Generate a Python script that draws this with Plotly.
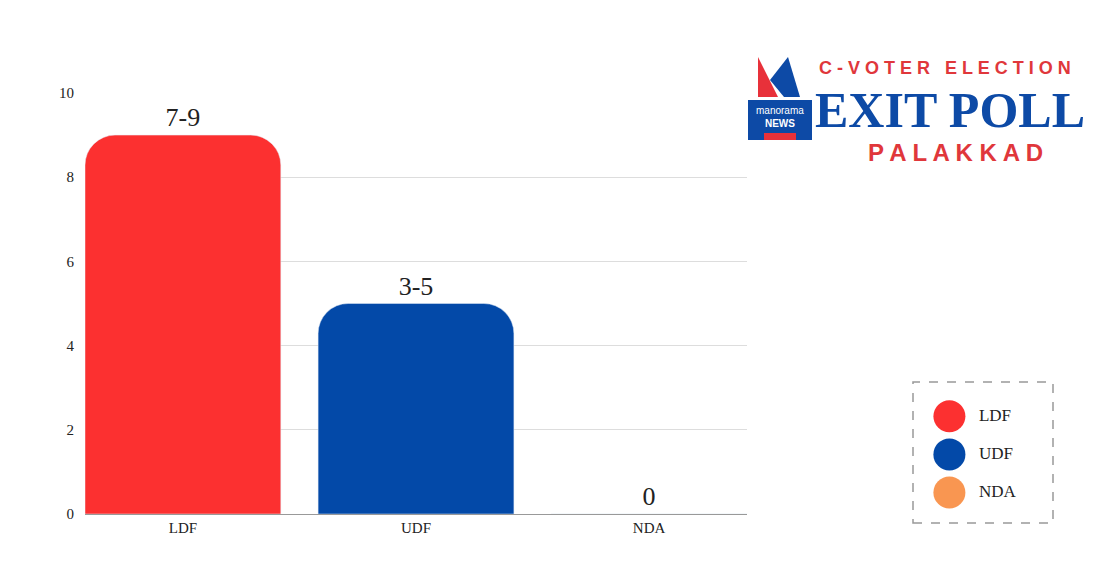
import plotly.graph_objects as go

parties = ["LDF", "UDF", "NDA"]
seats = [9, 5, 0]
labels = ["7-9", "3-5", "0"]
colors = ["#fc3030", "#0349a8", "#f99651"]

L, T, W, H = 77, 85, 1042, 430
def px(xw): return (xw - 8 - L) / W
def py(yw): return (T + H + 8 - yw) / H

fig = go.Figure()
fig.add_trace(go.Bar(x=parties, y=seats, marker_color=colors, text=labels,
                     textposition="outside", textfont=dict(size=26, color="#222", family="Liberation Serif"),
                     width=0.84, showlegend=False, cliponaxis=False))
fig.add_trace(go.Scatter(x=[0.26] * 3, y=[2, 1, 0], mode="markers+text", text=["  " + p for p in parties],
                         textposition="middle right", textfont=dict(size=17, color="#222"),
                         marker=dict(size=32, color=colors), xaxis="x2", yaxis="y2",
                         showlegend=False, hoverinfo="skip"))

fig.update_layout(
    width=1119, height=583, plot_bgcolor="white", paper_bgcolor="white",
    margin=dict(l=L, r=0, t=T, b=583 - T - H),
    barcornerradius=30,
    font=dict(family="Liberation Serif", color="#222"),
    xaxis=dict(domain=[0, 662 / W], range=[-0.42, 2.42], showline=True, linecolor="#999", tickfont=dict(size=15)),
    yaxis=dict(domain=[py(514), 1], range=[0, 10], dtick=2, gridcolor="#ddd", zeroline=False,
               tickfont=dict(size=15), ticklabelstandoff=10),
    xaxis2=dict(domain=[px(913), px(1053)], range=[0, 1], visible=False, anchor="y2"),
    yaxis2=dict(domain=[py(523), py(382)], range=[-0.8, 2.9], visible=False, anchor="x2"),
    shapes=[dict(type="rect", xref="paper", yref="paper", x0=px(913), x1=px(1053),
                 y0=py(523), y1=py(382), line=dict(color="#999", dash="dash", width=1.5)),
            dict(type="path", xref="paper", yref="paper",
                 path=f"M {px(758)},{py(97)} L {px(758)},{py(57)} L {px(778)},{py(97)} Z",
                 fillcolor="#e8313a", line=dict(width=0)),
            dict(type="path", xref="paper", yref="paper",
                 path=f"M {px(770)},{py(80)} L {px(788)},{py(57)} L {px(800)},{py(97)} L {px(784)},{py(97)} Z",
                 fillcolor="#0d4aa6", line=dict(width=0)),
            dict(type="rect", xref="paper", yref="paper", x0=px(748), x1=px(812),
                 y0=py(140), y1=py(100), fillcolor="#0d4aa6", line=dict(width=0)),
            dict(type="rect", xref="paper", yref="paper", x0=px(764), x1=px(796),
                 y0=py(140), y1=py(133), fillcolor="#e8313a", line=dict(width=0))],
    annotations=[
        dict(text="<b>C - V O T E R   E L E C T I O N</b>", xref="paper", yref="paper", x=px(945), y=py(68),
             xanchor="center", yanchor="middle", showarrow=False,
             font=dict(size=18, color="#e0373b", family="Liberation Sans")),
        dict(text="<b>EXIT POLL</b>", xref="paper", yref="paper", x=px(950), y=py(110),
             xanchor="center", yanchor="middle", showarrow=False,
             font=dict(size=50, color="#0d4aa6", family="Liberation Serif")),
        dict(text="<b>P A L A K K A D</b>", xref="paper", yref="paper", x=px(955), y=py(152),
             xanchor="center", yanchor="middle", showarrow=False,
             font=dict(size=24, color="#e0373b", family="Liberation Sans")),
        dict(text="manorama<br><b>NEWS</b>", xref="paper", yref="paper", x=px(780), y=py(117),
             xanchor="center", yanchor="middle", showarrow=False,
             font=dict(size=10, color="white", family="Liberation Sans")),
    ],
)
fig.write_html("out.html")
